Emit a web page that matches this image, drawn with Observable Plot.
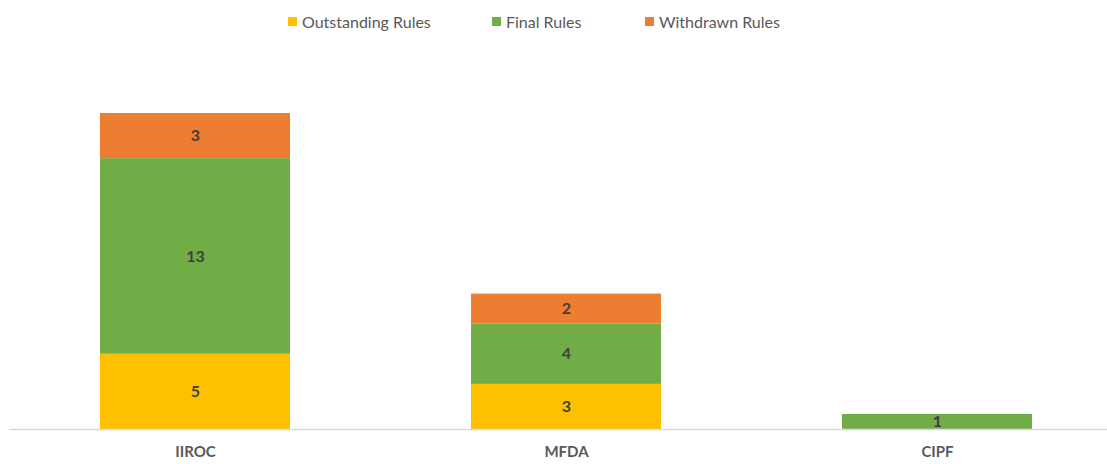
<!DOCTYPE html>
<html>
<head>
<meta charset="utf-8">
<script src="https://cdn.jsdelivr.net/npm/d3@7"></script>
<script src="https://cdn.jsdelivr.net/npm/@observablehq/plot@0.6"></script>
<style>
  body { margin: 0; background: #fff; font-family: Lato, "Open Sans", sans-serif; }
  #legend { position: relative; height: 38px; width: 1107px; }
  .item { position: absolute; top: 12px; display: flex; align-items: center; font-size: 16px; color: #595959; }
  .sw { width: 9px; height: 9px; margin-right: 5px; }
  #chart svg { display: block; }
</style>
</head>
<body>
<div id="legend"></div>
<div id="chart"></div>
<script>
const categories = ["IIROC", "MFDA", "CIPF"];
const seriesNames = ["Outstanding Rules", "Final Rules", "Withdrawn Rules"];
const outstanding = [5, 3, 0];
const finalRules = [13, 4, 1];
const withdrawn = [3, 2, 0];
const colors = ["#FFC000", "#70AD47", "#ED7D31"];

const seriesValues = [outstanding, finalRules, withdrawn];
const data = [];
seriesNames.forEach((s, si) => {
  categories.forEach((c, ci) => {
    const v = seriesValues[si][ci];
    if (v > 0) data.push({category: c, series: s, value: v});
  });
});

// legend
const legendLeft = [288, 492, 645];
const legend = document.getElementById("legend");
seriesNames.forEach((s, i) => {
  const it = document.createElement("div");
  it.className = "item";
  it.style.left = legendLeft[i] + "px";
  it.innerHTML = `<span class="sw" style="background:${colors[i]}"></span><span>${s}</span>`;
  legend.appendChild(it);
});

const chart = Plot.plot({
  width: 1107,
  height: 426,
  marginLeft: 9,
  marginRight: 0,
  marginTop: 75,
  marginBottom: 35,
  style: {fontFamily: "Lato, 'Open Sans', sans-serif", background: "#fff"},
  x: {domain: categories, range: [9.5, 1122.5], paddingInner: 0.488, paddingOuter: 0.244, label: null},
  y: {domain: [0, 21], axis: null},
  color: {domain: seriesNames, range: colors},
  marks: [
    Plot.barY(data, Plot.stackY({x: "category", y: "value", fill: "series", order: seriesNames, inset: 0})),
    Plot.text(data, Plot.stackY({x: "category", y: "value", z: "series", order: seriesNames, text: d => String(d.value), fill: "#404040", fontWeight: "bold", fontSize: 16})),
    Plot.ruleY([0], {stroke: "#d9d9d9", strokeWidth: 1.5}),
    Plot.axisX({tickSize: 0, tickPadding: 17, fontSize: 15, fontWeight: "bold", color: "#595959", label: null})
  ]
});
document.getElementById("chart").appendChild(chart);
</script>
</body>
</html>
